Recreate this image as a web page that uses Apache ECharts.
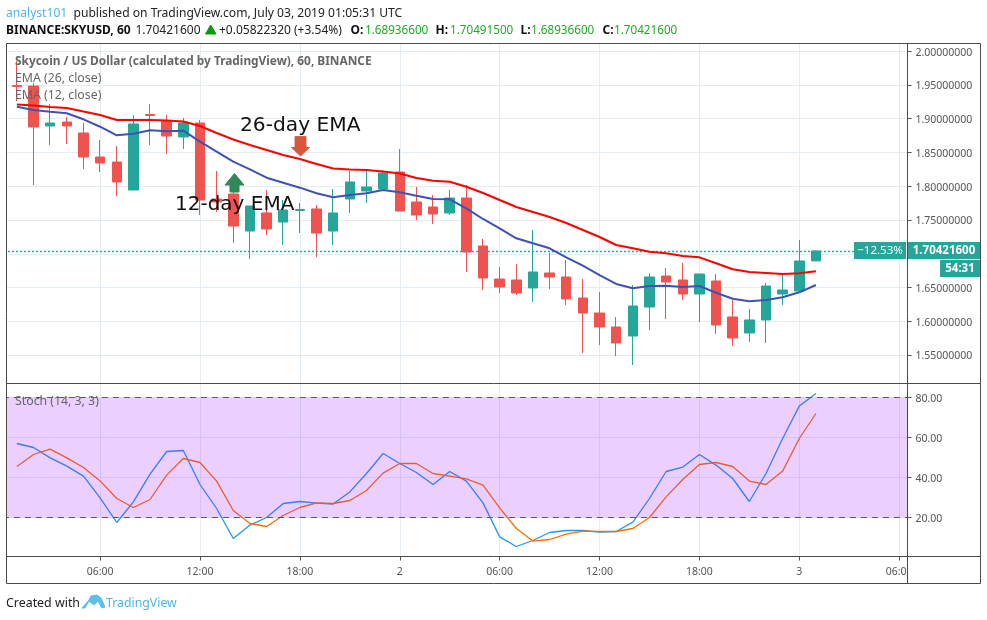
<!DOCTYPE html>
<html><head><meta charset="utf-8">
<style>html,body{margin:0;padding:0;background:#fff}#c{width:987px;height:620px}</style>
<script src="https://cdn.jsdelivr.net/npm/echarts@6/dist/echarts.min.js"></script>
</head><body><div id="c"></div>
<script>
const hours = ["01:00","02:00","03:00","04:00","05:00","06:00","07:00","08:00","09:00","10:00","11:00","12:00","13:00","14:00","15:00","16:00","17:00","18:00","19:00","20:00","21:00","22:00","23:00","00:00","01:00","02:00","03:00","04:00","05:00","06:00","07:00","08:00","09:00","10:00","11:00","12:00","13:00","14:00","15:00","16:00","17:00","18:00","19:00","20:00","21:00","22:00","23:00","00:00","01:00","02:00","03:00","04:00","05:00","06:00"];
const tickIndex = [5,11,17,23,29,35,41,47,53];
const tickText = ["06:00","12:00","18:00","2","06:00","12:00","18:00","3","06:00"];
const priceTicks = [1.55,1.6,1.65,1.7,1.75,1.8,1.85,1.9,1.95,2.0];
const stochTicks = [20,40,60,80];
const opens = [1.9493,1.9485,1.8893,1.8952,1.8789,1.8433,1.8359,1.7944,1.9063,1.8967,1.8730,1.8937,1.7811,1.7885,1.7337,1.7604,1.7470,1.7641,1.7663,1.7337,1.7811,1.7930,1.7959,1.8211,1.7767,1.7693,1.7604,1.7826,1.7115,1.6626,1.6611,1.6493,1.6715,1.6656,1.6344,1.6122,1.5915,1.5781,1.6211,1.6670,1.6611,1.6404,1.6596,1.6063,1.5826,1.6019,1.6404,1.6448,1.6894];
const closes = [1.9478,1.8878,1.8937,1.8893,1.8433,1.8344,1.8063,1.8922,1.9048,1.8744,1.8937,1.7796,1.7767,1.7411,1.7707,1.7367,1.7648,1.7656,1.7307,1.7604,1.8063,1.7989,1.8196,1.7633,1.7574,1.7589,1.7826,1.7026,1.6641,1.6507,1.6419,1.6730,1.6656,1.6330,1.6122,1.5915,1.5678,1.6226,1.6656,1.6581,1.6404,1.6700,1.5944,1.5752,1.6019,1.6522,1.6463,1.6893,1.7042];
const highs = [1.9856,1.9530,1.9219,1.9026,1.8937,1.8685,1.8596,1.9056,1.9219,1.9056,1.9011,1.8981,1.8226,1.8019,1.7707,1.7944,1.7796,1.7752,1.7722,1.7959,1.8226,1.8241,1.8241,1.8552,1.7989,1.7870,1.7944,1.8019,1.7219,1.6804,1.6848,1.7352,1.7011,1.6907,1.6626,1.6433,1.6063,1.6537,1.6715,1.6789,1.6863,1.6700,1.6700,1.6315,1.6181,1.6567,1.6685,1.7204,1.7049];
const lows = [1.9263,1.8019,1.8611,1.8626,1.8256,1.8211,1.7856,1.7944,1.8611,1.8478,1.8552,1.7574,1.7619,1.7159,1.6922,1.7278,1.7130,1.7307,1.6952,1.7130,1.7604,1.7752,1.7959,1.7633,1.7500,1.7441,1.7574,1.6730,1.6463,1.6419,1.6389,1.6285,1.6478,1.6241,1.5530,1.5648,1.5485,1.5352,1.5870,1.6033,1.6315,1.5989,1.5811,1.5633,1.5693,1.5678,1.6241,1.6448,1.6894];
const ema26 = [1.9211,1.9196,1.9174,1.9159,1.9107,1.9056,1.8981,1.8981,1.8981,1.8974,1.8959,1.8893,1.8789,1.8693,1.8611,1.8537,1.8463,1.8404,1.8330,1.8263,1.8248,1.8241,1.8219,1.8189,1.8122,1.8082,1.8067,1.7993,1.7900,1.7796,1.7693,1.7619,1.7544,1.7456,1.7352,1.7248,1.7130,1.7081,1.7030,1.7007,1.6967,1.6947,1.6859,1.6770,1.6730,1.6715,1.6700,1.6710,1.6740];
const ema12 = [1.9179,1.9130,1.9104,1.9081,1.8992,1.8882,1.8755,1.8779,1.8829,1.8814,1.8823,1.8660,1.8512,1.8364,1.8251,1.8127,1.8053,1.7979,1.7896,1.7836,1.7870,1.7896,1.7944,1.7910,1.7860,1.7811,1.7807,1.7673,1.7515,1.7377,1.7229,1.7155,1.7081,1.6947,1.6823,1.6685,1.6552,1.6488,1.6522,1.6527,1.6507,1.6522,1.6423,1.6334,1.6296,1.6315,1.6355,1.6429,1.6537];
const stochK = [57,55,49.8,45.7,40.7,29.8,17.5,27.8,41.7,53,53.5,36.5,24.5,9.5,16.2,20,27,28,27.2,26.7,32.8,42,52,47,42.5,36.5,43,38.2,27.3,10.3,5.5,8.5,12.5,13.5,13.5,12.7,13,17.7,29.5,43,45.2,51.5,46.2,39.5,28,42,59.5,75.7,82];
const stochD = [45.5,51.5,54.2,49.8,45,38.3,29.5,25,29,41.2,49.5,47.5,38.2,23.5,17,15.5,21,25,27.3,27,28.5,33.5,42.2,47,47,42,40.7,39.3,36.2,24.8,14.5,8.2,9,11.7,13.2,13,13,14.5,20,30.3,39,46.5,47.5,45.5,38.2,36.5,43.2,59.5,72];
const lastPrice = 1.704216;

const FONT = '"Noto Sans"';
const GRID = '#e3edf3', INK = '#4a4a4a', LABEL = '#555555';
const UP = '#26a69a', DOWN = '#ef5350', GREEN = '#22a82a';
const pad = v => ['-'].concat(v);
const cats = [''].concat(hours);
const isTick = i => tickIndex.indexOf(i - 1) >= 0;
const fmtX = (v, i) => { const k = tickIndex.indexOf(i - 1); return k >= 0 ? tickText[k] : ''; };
const candles = [['-','-','-','-']].concat(opens.map((o, i) => [o, closes[i], lows[i], highs[i]]));
const xBase = {
  type: 'category', data: cats, boundaryGap: true,
  axisLine: { show: false },
  splitLine: { show: true, alignWithLabel: true, interval: i => isTick(i), lineStyle: { color: GRID, width: 1 } }
};
const yBase = {
  type: 'value', position: 'right', scale: true,
  axisLine: { show: false },
  axisTick: { show: true, length: 4, lineStyle: { color: LABEL } },
  splitLine: { show: true, lineStyle: { color: GRID, width: 1 } }
};
const T = (text, x, y, fill, size, weight, extra) => ({
  type: 'text', x, y: y + 1.5, z: 100, silent: true,
  style: Object.assign({ text, fill, font: (weight || 'normal') + ' ' + size + 'px ' + FONT, textVerticalAlign: 'middle' }, extra || {})
});
const R = (x, y, w, h, fill) => ({ type: 'rect', z: 90, silent: true, shape: { x, y, width: w, height: h }, style: { fill } });
const L = (x1, y1, x2, y2) => ({ type: 'line', z: 95, silent: true, shape: { x1, y1, x2, y2 }, style: { stroke: INK, lineWidth: 1 } });
const P = (points, fill, stroke) => ({ type: 'polygon', z: 92, silent: true, shape: { points }, style: { fill, stroke: stroke || fill, lineWidth: 1 } });
const yLabel = { color: LABEL, fontFamily: FONT, fontSize: 10.5, margin: 8, verticalAlign: 'top', lineHeight: 3 };

const chart = echarts.init(document.getElementById('c'), null, { renderer: 'canvas' });
chart.setOption({
  animation: false,
  backgroundColor: '#fff',
  grid: [
    { left: -8.1, top: 43.5, width: 915.6, height: 340, containLabel: false, outerBoundsMode: 'none' },
    { left: -8.1, top: 383.5, width: 915.6, height: 173, containLabel: false, outerBoundsMode: 'none' }
  ],
  xAxis: [
    Object.assign({}, xBase, { gridIndex: 0, axisLabel: { show: false }, axisTick: { show: false } }),
    Object.assign({}, xBase, { gridIndex: 1,
      axisTick: { show: true, alignWithLabel: true, length: 4, interval: i => isTick(i), lineStyle: { color: LABEL } },
      axisLabel: { show: true, interval: i => isTick(i), formatter: fmtX, color: LABEL, fontFamily: FONT, fontSize: 10.5, margin: 10 } })
  ],
  yAxis: [
    Object.assign({}, yBase, { gridIndex: 0, min: 1.50778, max: 2.01148,
      axisTick: Object.assign({}, yBase.axisTick, { customValues: priceTicks }),
      axisLabel: Object.assign({ customValues: priceTicks, formatter: v => v.toFixed(8) }, yLabel) }),
    Object.assign({}, yBase, { gridIndex: 1, min: 0.5, max: 87,
      axisTick: Object.assign({}, yBase.axisTick, { customValues: stochTicks }),
      axisLabel: Object.assign({ customValues: stochTicks, formatter: v => v.toFixed(2) }, yLabel) })
  ],
  series: [
    { type: 'candlestick', name: 'SKYUSD', xAxisIndex: 0, yAxisIndex: 0, z: 3, barWidth: 10, data: candles,
      itemStyle: { color: UP, color0: DOWN, borderColor: UP, borderColor0: DOWN, borderWidth: 1 },
      markLine: { silent: true, symbol: 'none', z: 4, precision: 8, label: { show: false },
        lineStyle: { color: UP, type: [2, 2], width: 1.3 }, data: [{ yAxis: lastPrice }] } },
    { type: 'line', name: 'EMA 26', xAxisIndex: 0, yAxisIndex: 0, z: 5, data: pad(ema26), symbol: 'none', lineStyle: { color: '#ff0000', width: 2 } },
    { type: 'line', name: 'EMA 12', xAxisIndex: 0, yAxisIndex: 0, z: 5, data: pad(ema12), symbol: 'none', lineStyle: { color: '#3f51b5', width: 2 } },
    { type: 'line', name: '%K', xAxisIndex: 1, yAxisIndex: 1, z: 3, data: pad(stochK), symbol: 'none', lineStyle: { color: '#2196f3', width: 1.3 } },
    { type: 'line', name: '%D', xAxisIndex: 1, yAxisIndex: 1, z: 3, data: pad(stochD), symbol: 'none', lineStyle: { color: '#ff6d00', width: 1.3 },
      markArea: { silent: true, z: 6, itemStyle: { color: 'rgba(153,21,255,0.2)' }, data: [[{ yAxis: 80 }, { yAxis: 20 }]] },
      markLine: { silent: true, symbol: 'none', z: 7, label: { show: false },
        lineStyle: { color: '#5f5468', type: [6, 5], width: 1 }, data: [{ yAxis: 80 }, { yAxis: 20 }] } }
  ],
  graphic: { elements: [
    R(-10, 40, 16.5, 550, '#fff'),
    R(908, 557, 72, 26, '#fff'),
    L(6.5, 43.5, 980.5, 43.5), L(6.5, 583.5, 980.5, 583.5), L(6.5, 43.5, 6.5, 583.5), L(980.5, 43.5, 980.5, 583.5),
    L(6.5, 383.5, 980.5, 383.5), L(6.5, 556.5, 980.5, 556.5), L(907.5, 43.5, 907.5, 583.5),

    T('analyst101', 6, 12, '#4db6e6', 12.1),
    T('published on TradingView.com, July 03, 2019 01:05:31 UTC', 73.5, 12, '#222', 12.1),
    T('BINANCE:SKYUSD, 60', 6, 29, '#111', 12, 'bold'),
    T('1.70421600', 135.5, 29, '#222', 12),
    P([[205.5, 34], [216, 34], [210.7, 25]], '#0a9a0a'),
    T('+0.05822320 (+3.54%)', 219, 29, '#222', 12),
    T('O:', 350.5, 29, '#111', 12, 'bold'), T('1.68936600', 365, 29, GREEN, 11.7),
    T('H:', 435.5, 29, '#111', 12, 'bold'), T('1.70491500', 450, 29, GREEN, 11.7),
    T('L:', 520.5, 29, '#111', 12, 'bold'), T('1.68936600', 531, 29, GREEN, 11.7),
    T('C:', 602.5, 29, '#111', 12, 'bold'), T('1.70421600', 614, 29, GREEN, 11.7),

    T('Skycoin / US Dollar (calculated by TradingView), 60, BINANCE', 15, 60, '#666', 11.87, 'bold'),
    T('EMA (26, close)', 15, 77, '#666', 12.3),
    T('EMA (12, close)', 15, 94, '#666', 12.3),
    T('Stoch (14, 3, 3)', 15, 400, '#666', 12.3),

    T('26-day EMA', 240, 124.5, '#111', 20, 'normal', { font: 'normal 20.2px "DejaVu Sans"' }),
    T('12-day EMA', 175, 203.5, '#111', 20, 'normal', { font: 'normal 20px "DejaVu Sans"' }),
    P([[295, 136.5], [306, 136.5], [306, 147.5], [309.5, 147.5], [300.5, 156], [291.5, 147.5], [295, 147.5]], '#d9553b', '#c8694f'),
    P([[234.5, 173.5], [244, 185], [239, 185], [239, 192], [230, 192], [230, 185], [225, 185]], '#2e8b57', '#3f7d5a'),

    R(854, 242, 52, 17, UP), R(907.5, 242, 73, 17, UP), R(940, 260, 40.5, 17, UP),
    T('\u221212.53%', 880, 249.5, '#fff', 11.5, 'normal', { textAlign: 'center' }),
    T('1.70421600', 944, 249.5, '#fff', 11.5, 'bold', { textAlign: 'center' }),
    T('54:31', 960, 267.5, '#fff', 11.5, 'bold', { textAlign: 'center' }),

    T('Created with', 6, 602, '#222', 12.4),
    P([[82, 608], [89, 600], [91, 596], [97, 595], [101, 598], [105, 607], [102, 608], [98, 601], [94, 605], [89, 601], [85, 608]], '#5bbfe6'),
    T('TradingView', 106, 602, '#4db6e6', 12.3)
  ] }
});
</script></body></html>
